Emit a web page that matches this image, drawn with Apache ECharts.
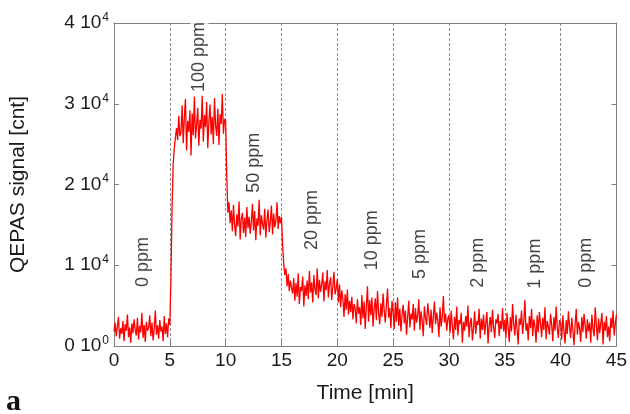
<!DOCTYPE html>
<html>
<head>
<meta charset="utf-8">
<script src="https://cdn.jsdelivr.net/npm/echarts@6/dist/echarts.min.js"></script>
<style>
  html, body { margin: 0; padding: 0; background: #fff; }
  #main { width: 630px; height: 414px; }
</style>
</head>
<body>
<div id="main"></div>
<script>
// QEPAS signal, thousands of counts, one sample every 0.1 min
var dt = 0.1;
var seg0 = [1.8,2.9,1.2,2.4,3.6,0.9,2.2,1.5,3.1,0.6,2.7,1.9,3.9,1.1,2.3,0.4,2.8,1.6,3.3,2.0,
  1.3,3.5,0.8,2.5,1.7,4.1,1.0,2.6,0.5,3.0,1.9,2.2,3.8,1.2,2.9,0.7,2.1,4.4,1.4,2.6,
  0.9,3.2,1.8,2.4,0.6,3.7,1.5,2.8,1.1,3.4];
var rise100 = [2.6,8.5,17.0,22.5,24.5,25.8,27.0,25.5,28.5,26.0];
var seg100 = [26.4,29.8,25.1,28.3,30.6,24.2,27.9,26.5,29.2,23.6,
  28.8,26.1,30.9,25.7,27.4,29.5,24.8,28.0,26.9,31.0,
  25.3,28.6,27.1,30.2,24.5,27.8,29.9,26.2,28.4,25.0,
  30.7,27.3,26.0,29.4,24.9,28.7,27.5,31.2,26.3,28.1];
var drop50 = [27.8,21.0,16.5,17.8,15.2];
var seg50 = [16.8,14.2,17.5,15.0,13.6,16.3,14.8,17.9,13.2,15.7,
  16.5,14.0,15.9,13.5,17.2,14.6,16.0,13.9,15.4,17.6,
  14.3,16.7,13.1,15.8,14.9,18.1,13.7,16.2,15.1,14.4,
  17.0,13.4,15.6,16.9,14.1,15.3,17.4,13.8,16.4,14.7,
  15.5,17.8,14.5,16.1,15.2];
var drop20 = [16.0,12.5,10.2,8.8,9.6,7.4,8.9,6.8,8.1,7.2];
var seg20 = [6.5,8.4,5.6,7.8,6.1,9.0,5.2,7.3,6.8,8.6,
  4.9,7.5,6.2,8.1,5.8,9.3,6.6,7.9,5.4,8.8,
  7.0,6.3,9.6,5.9,8.2,6.7,7.6,9.1,5.5,8.0,
  6.9,9.4,6.0,7.7,8.5,5.7,7.4,9.2,6.4,7.1];
var drop10 = [8.3,5.4,7.6,4.8,6.9,5.9,3.6,6.4,4.5,7.0,
  3.9,5.6,4.2,6.1,3.3,5.2,4.7,2.8,5.8,4.0];
var seg10 = [4.8,2.6,6.3,3.4,5.5,2.1,4.9,7.4,3.0,5.7,
  3.8,6.0,2.4,4.6,5.9,3.2,6.8,4.1,2.7,5.3,
  3.6,6.5,4.4,2.9,5.1,7.1,3.5,4.7,2.2,5.6];
var seg5 = [4.2,2.1,5.4,3.0,6.0,2.5,4.6,1.8,3.9,5.1,
  2.8,4.4,1.4,3.6,5.6,2.3,4.0,3.3,5.2,1.9,
  4.7,2.9,3.8,5.8,2.0,4.3,3.1,1.2,4.9,3.5,
  2.6,5.3,3.9,2.2,4.5,1.6,3.7,5.5,2.7,4.1,
  3.2,1.1,4.8,2.4,3.6,6.2,2.9,4.0,1.9,3.4];
var seg2 = [3.8,1.6,4.4,2.5,0.8,3.6,2.0,4.9,1.3,3.2,
  2.7,4.1,0.4,3.0,1.9,3.7,2.4,5.0,1.1,2.8,
  3.5,0.7,2.2,4.3,1.5,3.1,2.6,4.6,0.9,3.4,
  2.0,3.9,1.4,2.9,4.2,0.3,2.5,3.6,1.7,4.5,
  2.3,1.0,3.3,2.8,4.0,1.2,3.1,2.1,4.7,1.8];
var seg1 = [3.2,1.0,4.1,2.3,0.5,3.6,1.8,5.2,2.7,1.3,
  3.9,2.1,0.2,3.4,2.6,4.4,1.5,3.0,5.7,1.9,
  2.8,0.7,3.7,2.2,4.6,1.2,3.3,2.5,0.4,3.8,
  1.7,4.2,2.9,1.1,3.5,2.0,4.8,0.8,3.1,2.4,
  1.4,4.0,2.6,0.6,3.6,1.9,4.9,2.3,1.0,3.2];
var segEnd = [2.9,0.8,3.8,1.9,0.3,3.2,1.5,4.3,2.4,1.0,
  3.5,2.0,0.1,2.7,4.6,1.4,3.0,2.2,0.5,3.6,
  1.7,4.0,2.5,0.9,3.3,1.8,2.9,0.4,3.9,2.1,
  1.2,4.8,2.6,0.7,3.4,1.6,2.8,4.1,0.2,3.0,
  1.9,3.7,1.1,2.4,0.6,3.5,2.2,4.4,1.3,2.7,3.9];

var ppmLabels = ['0 ppm', '100 ppm', '50 ppm', '20 ppm', '10 ppm', '5 ppm', '2 ppm', '1 ppm', '0 ppm'];
var labelX = [2.6, 7.65, 12.55, 17.7, 23.1, 27.45, 32.6, 37.7, 42.25];
var labelY = [10.4, 35.8, 22.7, 15.6, 13.1, 11.4, 10.3, 10.2, 10.3];

var signal = [].concat(seg0, rise100, seg100, drop50, seg50, drop20, seg20,
  drop10, seg10, seg5, seg2, seg1, segEnd);
var lineData = signal.map(function (v, i) { return [+(i * dt).toFixed(1), v]; });
var labelData = ppmLabels.map(function (t, i) { return { value: [labelX[i], labelY[i]], name: t }; });

var chart = echarts.init(document.getElementById('main'), null, { renderer: 'canvas' });
var font = 'Liberation Sans, Arial, sans-serif';
var axisColor = '#808080';
var textColor = '#1a1a1a';

var option = {
  animation: false,
  textStyle: { fontFamily: font },
  grid: { left: 114, right: 11, top: 23, bottom: 68 },
  xAxis: [{
    type: 'value', min: 0, max: 45, interval: 5,
    name: 'Time [min]', nameLocation: 'middle', nameGap: 37,
    nameTextStyle: { fontSize: 21, color: textColor, fontFamily: font },
    axisLine: { onZero: false, lineStyle: { color: axisColor } },
    axisTick: { inside: true, length: 5, lineStyle: { color: axisColor } },
    axisLabel: { fontSize: 19, color: textColor, margin: 5, fontFamily: font },
    splitLine: { show: true, lineStyle: { color: '#8c8c8c', type: [3, 2], width: 1 } }
  }, {
    type: 'value', min: 0, max: 45, interval: 5, position: 'top',
    axisLine: { show: true, onZero: false, lineStyle: { color: axisColor } },
    axisTick: { show: false }, axisLabel: { show: false }, splitLine: { show: false }
  }],
  yAxis: [{
    type: 'value', min: 0, max: 40, interval: 10,
    name: 'QEPAS signal [cnt]', nameLocation: 'middle', nameGap: 85,
    nameTextStyle: { fontSize: 21, color: textColor, fontFamily: font },
    axisLine: { show: true, onZero: false, lineStyle: { color: axisColor } },
    axisTick: { show: true, inside: true, length: 5, lineStyle: { color: axisColor } },
    axisLabel: {
      margin: 5, color: textColor,
      formatter: function (v) {
        return '{n|' + (v / 10) + ' 10}{s|' + (v === 0 ? '0' : '4') + '}';
      },
      rich: {
        n: { fontSize: 19, color: textColor, fontFamily: font },
        s: { fontSize: 12, color: textColor, fontFamily: font, padding: [0, 0, 11, 1] }
      }
    },
    splitLine: { show: false }
  }, {
    type: 'value', min: 0, max: 40, interval: 10, position: 'right',
    axisLine: { show: true, onZero: false, lineStyle: { color: axisColor } },
    axisTick: { show: true, inside: true, length: 5, lineStyle: { color: axisColor } },
    axisLabel: { show: false }, splitLine: { show: false }
  }],
  series: [{
    type: 'line',
    data: lineData,
    showSymbol: false,
    lineStyle: { color: '#ff0000', width: 1.3 },
    z: 3
  }, {
    type: 'scatter',
    data: labelData,
    symbolSize: 0,
    silent: true,
    z: 5,
    label: {
      show: true, position: 'inside', rotate: 90,
      formatter: '{b}', fontSize: 18, color: '#111', fontFamily: font,
      backgroundColor: '#fff', padding: [0, 3]
    }
  }],
  graphic: [{
    type: 'text', left: 6, top: 387,
    style: { text: 'a', font: 'bold 30px "Liberation Serif", serif', fill: '#111' }
  }]
};

chart.setOption(option);
window.addEventListener('resize', chart.resize);
</script>
</body>
</html>
